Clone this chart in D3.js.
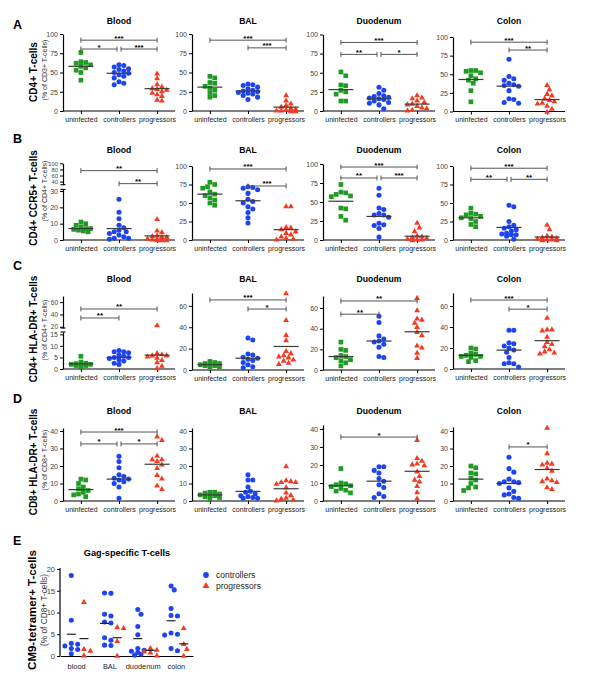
<!DOCTYPE html>
<html><head><meta charset="utf-8">
<script src="https://cdn.jsdelivr.net/npm/d3@7"></script>
<style>body{margin:0;background:#fff}svg{display:block}text{font-family:Arial,"Liberation Sans",sans-serif}</style>
</head><body><svg id="c" width="600" height="689"></svg>
<script>
const groups = ["uninfected","controllers","progressors"];
const tissues = ["Blood","BAL","Duodenum","Colon"];
const rowLetters = ["A","B","C","D"];
const rowTitles = ["CD4+ T-cells","CD4+ CCR5+ T-cells","CD4+ HLA-DR+ T-cells","CD8+ HLA-DR+ T-cells"];
const rowSubtitles = ["(% of CD3+ T-cells)","(% of CD4+ T-cells)","(% of CD4+ T-cells)","(% of CD8+ T-cells)"];

// ---- Row A: CD4+ T-cells ----
const A_Blood = [[76,64,63,62,60,58,56,53,50,40],[60,59,57,55,54,52,50,49,47,45,43,38,36,34],[49,43,35,32,30,29,28,26,24,22,20,15,14]];
const A_Blood_median = [58,49,29];
const A_Blood_sig = [[0,2,"***",92],[0,1,"*",80.5],[1,2,"***",80.5]];
const A_BAL = [[45,43,37,36,32,30,27,24,20,18],[35,34,33,31,29,27,26,25,24,23,22,20,18,15],[21,14,10,8,6,4,3,2,1,1,0,0]];
const A_BAL_median = [31,26,5];
const A_BAL_sig = [[0,2,"***",92],[1,2,"***",82]];
const A_Duodenum = [[51,46,34,33,27,25,22,13,13],[31,27,23,20,19,18,17,16,15,13,11,10,8,3],[21,18,17,14,12,10,9,7,5,4,2,1]];
const A_Duodenum_median = [28,16,9];
const A_Duodenum_sig = [[0,2,"***",89.6],[0,1,"**",74],[1,2,"*",74]];
const A_Colon = [[55,55,54,52,48,44,42,38,28,13],[70,47,44,42,38,36,35,34,28,17,16,12,11],[36,30,24,22,18,16,14,12,11,8,4,0]];
const A_Colon_median = [43,34,16];
const A_Colon_sig = [[0,2,"***",93],[1,2,"**",82.5]];

// ---- Row B: CD4+ CCR5+ T-cells ----
const B_Blood = [[11,10,9,8,7,7,6.5,6,5.5,5],[25,17,13,9,7.5,6,5,5,4,3,2,1,1,0.5],[13,6,5,3,2.5,2,2,1,1,0.5,0,0,0]];
const B_Blood_median = [7,7,2.5];
const B_Blood_sig = [[0,2,"**",76],[1,2,"**",33.5]];
const B_BAL = [[78,75,72,70,65,62,60,57,54,50,47],[72,71,70,68,63,55,52,50,45,42,37,30,23],[46,46,18,17,15,12,10,8,5,3,2,1]];
const B_BAL_median = [62,53,14];
const B_BAL_sig = [[0,2,"***",96],[1,2,"***",73]];
const B_Duodenum = [[73,63,62,60,58,57,42,41,31,26],[68,59,42,40,35,33,33,30,22,20,19,15,4],[23,17,12,6,5,4,3,2,1,1,0]];
const B_Duodenum_median = [51,31,5];
const B_Duodenum_sig = [[0,2,"***",96],[0,1,"**",81.6],[1,2,"***",81.6]];
const B_Colon = [[43,36,35,34,32,30,29,25,21,18],[47,45,25,20,18,16,14,12,9,8,7,7,5,1],[21,15,6,5,4,3,2,1,1,0,0]];
const B_Colon_median = [30,17,4];
const B_Colon_sig = [[0,2,"***",97],[0,1,"**",82],[1,2,"**",82]];

// ---- Row C: CD4+ HLA-DR+ T-cells ----
const C_Blood = [[5.5,3,2.5,2.3,2,2,1.8,1.5,1.5,1],[8,7.5,7.5,7,6,5.5,5,5,4.5,4,3.5,2.5,2],[23,7,6.5,6,6,5.5,5,4,3,1.5,0.5]];
const C_Blood_median = [2.2,5,6];
const C_Blood_sig = [[0,2,"**",48.9],[0,1,"**",34.3]];
const C_BAL = [[8,7,6,6,5,5,4,4,3,3],[30,28,15,14,12,11,10,9,7,5,3,2],[72,47,33,28,18,16,14,13,12,10,9,7,6]];
const C_BAL_median = [5,11,22];
const C_BAL_sig = [[0,2,"***",65.5],[1,2,"*",57]];
const C_Duodenum = [[27,20,19,14,13,12,10,9,7,4],[52,46,33,30,28,27,25,22,13,12],[70,58,50,49,46,42,37,34,24,22,17,12]];
const C_Duodenum_median = [13,28,37];
const C_Duodenum_sig = [[0,2,"**",66.8],[0,1,"**",54]];
const C_Colon = [[20,19,15,14,13,12,12,11,8,7],[37,37,25,24,22,20,18,16,11,6,5,5,2],[49,38,38,37,31,26,24,22,19,17,16,15]];
const C_Colon_median = [13,18,27];
const C_Colon_sig = [[0,2,"***",65.7],[1,2,"*",57]];

// ---- Row D: CD8+ HLA-DR+ T-cells ----
const D_Blood = [[12.5,12,10,8,7,6,5,4,3.5,2.5],[25.5,22.5,19,15,14,13,12.5,12,11,10,8,1.5],[37,35,26,24,24,23,21,19,15,13,9,7]];
const D_Blood_median = [6.5,12.5,21];
const D_Blood_sig = [[0,2,"***",39.4],[0,1,"*",32.6],[1,2,"*",32.6]];
const D_BAL = [[5,5,4.5,4,3.5,3.5,3,2.5,2,1],[15,12,12,8,5.5,5,4,3,2.5,2,1.5,1.5],[20,12,11.5,11,11,10,8,5,3.5,2,1.5,1,0.5]];
const D_BAL_median = [3.5,5.5,7];
const D_BAL_sig = [];
const D_Duodenum = [[18,10,9.5,9,8.5,8,7,6,5.5,4.5],[19,19,17,15.5,12.5,11,9,7.5,4,2.5,2],[34,24,22.5,21,20.5,20,16.5,14,12,11,8.5,5,1.5]];
const D_Duodenum_median = [8.5,11,16.5];
const D_Duodenum_sig = [[0,2,"*",35.5]];
const D_Colon = [[20,19,16,15.5,13,12,10,8,7.5,6],[25,18.5,16.5,12.5,11,11,10.5,10,7.5,5.5,4,3.5,2,1.5],[42,27.5,22,21.5,21,19,17.5,13,12,11.5,11,8,7]];
const D_Colon_median = [12.5,10,18];
const D_Colon_sig = [[1,2,"*",30.9]];

// ---- Row E: Gag-specific T-cells ----
const E_categories = ["blood","BAL","duodenum","colon"];
const E_series = ["controllers","progressors"];
const E_controllers = [[18.5,8.2,2.9,2.7,2.3,1.7,1.5,0.5],[14.4,14.5,9.6,9.2,7.8,7.6,4.2,3.6,2.5,2.4],[10.7,9.6,6.8,4.9,1.7,1.3,1.1,0.8,0.4,0.2],[16.1,15.2,10.9,9.2,9.3,5.3,5.0,4.8,1.7,1.2]];
const E_progressors = [[12.5,1.7,1.3,0.2],[6.5,6.7,3.5,0.1],[1.9,1.5,1.1,0.9,0.2],[6.5,2.8,1.7,0.1]];
const E_controllers_mean = [5.0,7.5,4.0,8.1];
const E_progressors_mean = [4.0,4.2,1.3,2.8];
const E_ticks = [0,5,10,15,20];

// ================= drawing =================
const svg = d3.select("#c");
const colors = ["#1f9a22","#1e44f2","#f53a22"];
const symbols = [d3.symbolSquare, d3.symbolCircle, d3.symbolTriangle];
const symSizes = [22, 20, 15];
const FONT = 'Arial,"Liberation Sans",sans-serif';

const allData = {
  A:[[A_Blood,A_Blood_median,A_Blood_sig],[A_BAL,A_BAL_median,A_BAL_sig],[A_Duodenum,A_Duodenum_median,A_Duodenum_sig],[A_Colon,A_Colon_median,A_Colon_sig]],
  B:[[B_Blood,B_Blood_median,B_Blood_sig],[B_BAL,B_BAL_median,B_BAL_sig],[B_Duodenum,B_Duodenum_median,B_Duodenum_sig],[B_Colon,B_Colon_median,B_Colon_sig]],
  C:[[C_Blood,C_Blood_median,C_Blood_sig],[C_BAL,C_BAL_median,C_BAL_sig],[C_Duodenum,C_Duodenum_median,C_Duodenum_sig],[C_Colon,C_Colon_median,C_Colon_sig]],
  D:[[D_Blood,D_Blood_median,D_Blood_sig],[D_BAL,D_BAL_median,D_BAL_sig],[D_Duodenum,D_Duodenum_median,D_Duodenum_sig],[D_Colon,D_Colon_median,D_Colon_sig]]
};

const x0s = [63,192,323,453];
const AXW = 112;
const layout = [
  {bottom:111, titleY:24, letterY:29, yTitleY:72, subY:70, ticks:[0,25,50,75,100],
   panels:[{max:100,top:34},{max:100,top:34},{max:100,top:34.5},{max:100,top:37,bottom:111.5}]},
  {bottom:240, titleY:153, letterY:143, yTitleY:198, subY:191, ticks:[0,25,50,75,100],
   panels:[{broken:{low:[0,31],lowR:[240,189.4],high:[30,100],highR:[184.7,163.3],lowTicks:[0,10,20,30],highTicks:[40,60,80,100],hiFont:5.8}},
           {max:100,top:166},{max:100,top:164},{max:100,top:166}]},
  {bottom:370, titleY:282, letterY:270, yTitleY:329, subY:330, ticks:[0,20,40,60],
   panels:[{broken:{low:[0,16],lowR:[369,332],high:[18,70],highR:[328,296],lowTicks:[0,5,10,15],highTicks:[20,40,60],hiFont:6.5}, bottom:369},
           {max:72,top:293},{max:71.6,top:296},{max:72.4,top:293,bottom:369}]},
  {bottom:501, titleY:414, letterY:403, yTitleY:462, subY:460, ticks:[0,10,20,30,40],
   panels:[{max:41.7,top:428},{max:41.7,top:428},{max:42.2,top:425},{max:42.3,top:427}]}
];

function swarm(values, yf, cx, step, minD, maxOff){
  const pts = values.map(v=>({v, y:yf(v)})).sort((a,b)=>a.y-b.y);
  const placed=[];
  const cands=[0]; for(let i=1;i*step<=maxOff;i++){cands.push(i*step,-i*step);}
  for(const p of pts){
    let best=null, bestOv=Infinity;
    for(const dx of cands){
      const xx=cx+dx;
      let ov=0;
      placed.forEach(q=>{const d=Math.hypot(q.x-xx,q.y-p.y); if(d<minD) ov+=minD-d;});
      if(ov===0){best=xx;break;}
      if(ov<bestOv-0.5){bestOv=ov;best=xx;}
    }
    p.x=best;
    placed.push(p);
  }
  return placed;
}

function styleAxis(g, size){
  g.selectAll(".domain").attr("stroke","#000").attr("stroke-width",1.2);
  g.selectAll(".tick line").attr("stroke","#000").attr("stroke-width",1);
  g.selectAll(".tick text").attr("fill","#444").attr("font-size",size).attr("font-family",FONT);
}

Object.keys(allData).forEach((rk, ri)=>{
  const L = layout[ri];
  svg.append("text").attr("x",13).attr("y",L.letterY).text(rowLetters[ri])
     .attr("font-size",12.5).attr("font-weight","bold").attr("fill","#000");
  svg.append("text").attr("transform",`translate(37,${L.yTitleY}) rotate(-90)`).attr("text-anchor","middle")
     .attr("font-size",10).attr("font-weight","bold").text(rowTitles[ri]);
  svg.append("text").attr("transform",`translate(46.5,${L.subY}) rotate(-90)`).attr("text-anchor","middle")
     .attr("font-size",7).attr("fill","#333").text(rowSubtitles[ri]);

  allData[rk].forEach((pd, pi)=>{
    const [vals, med, sig] = pd;
    const P = L.panels[pi];
    const x0 = x0s[pi];
    const bottom = P.bottom || L.bottom;
    const g = svg.append("g");
    const x = d3.scalePoint().domain(groups).range([x0, x0+AXW]).padding(0.47);
    let yf;
    if(P.broken){
      const b = P.broken;
      const lo = d3.scaleLinear().domain(b.low).range(b.lowR);
      const hi = d3.scaleLinear().domain(b.high).range(b.highR);
      yf = v => v > b.low[1] ? hi(v) : lo(v);
      const a1 = g.append("g").attr("transform",`translate(${x0},0)`)
        .call(d3.axisLeft(lo).tickValues(b.lowTicks).tickSize(3).tickSizeOuter(0).tickPadding(2));
      styleAxis(a1,7);
      const a2 = g.append("g").attr("transform",`translate(${x0},0)`)
        .call(d3.axisLeft(hi).tickValues(b.highTicks).tickSize(3).tickSizeOuter(0).tickPadding(2));
      styleAxis(a2,b.hiFont);
      // break caps
      [b.lowR[1], b.highR[0]].forEach(yy=>{
        g.append("line").attr("x1",x0-2.5).attr("x2",x0+2.5).attr("y1",yy).attr("y2",yy).attr("stroke","#000").attr("stroke-width",1.1);
      });
    } else {
      const y = d3.scaleLinear().domain([0,P.max]).range([bottom,P.top]);
      yf = y;
      const a = g.append("g").attr("transform",`translate(${x0},0)`)
        .call(d3.axisLeft(y).tickValues(L.ticks).tickSize(3).tickSizeOuter(0).tickPadding(2));
      styleAxis(a,7);
    }
    const ax = g.append("g").attr("transform",`translate(0,${bottom})`)
      .call(d3.axisBottom(x).tickSize(3).tickSizeOuter(0).tickPadding(3));
    styleAxis(ax,7);
    ax.selectAll(".tick text").attr("fill","#222");
    ax.select(".domain").attr("d",`M${x0},0H${x0+AXW}`);
    g.append("text").attr("x",x(groups[1])).attr("y",L.titleY).attr("text-anchor","middle")
      .attr("font-size",8.6).attr("font-weight","bold").text(tissues[pi]);
    groups.forEach((grp, gi)=>{
      const pts = swarm(vals[gi], yf, x(grp), 2.4, 4.6, 10);
      g.selectAll(null).data(pts).enter().append("path")
        .attr("d", d3.symbol().type(symbols[gi]).size(symSizes[gi]))
        .attr("transform", d=>`translate(${d.x},${d.y + (gi===2?0.6:0)})`)
        .attr("fill", colors[gi]);
    });
    g.selectAll(null).data(med).enter().append("line")
      .attr("x1",(d,i)=>x(groups[i])-12.5).attr("x2",(d,i)=>x(groups[i])+12.5)
      .attr("y1",d=>yf(d)).attr("y2",d=>yf(d)).attr("stroke","#3a3a3a").attr("stroke-width",1.2);
    sig.forEach(s=>{
      const [a,b,lab,lev] = s;
      let xa = x(groups[a]), xb = x(groups[b]);
      const shared = sig.filter(t=>t!==s && t[3]===lev);
      if(shared.some(t=>t[0]===b)) xb -= 2;
      if(shared.some(t=>t[1]===a)) xa += 2;
      const yy = yf(lev);
      g.append("line").attr("x1",xa).attr("x2",xb).attr("y1",yy).attr("y2",yy).attr("stroke","#555").attr("stroke-width",1);
      [xa,xb].forEach(xx=>g.append("line").attr("x1",xx).attr("x2",xx).attr("y1",yy-2.5).attr("y2",yy+2.5).attr("stroke","#555").attr("stroke-width",1));
      g.append("text").attr("x",(xa+xb)/2).attr("y",yy+0.5).attr("text-anchor","middle")
        .attr("font-size",8).attr("font-weight","bold").text(lab);
    });
  });
});

// ---- Panel E ----
(function(){
  const g = svg.append("g");
  svg.append("text").attr("x",13).attr("y",545).text("E").attr("font-size",12.5).attr("font-weight","bold");
  svg.append("text").attr("transform","translate(36,610) rotate(-90)").attr("text-anchor","middle")
     .attr("font-size",11.5).attr("font-weight","bold").text("CM9-tetramer+ T-cells");
  svg.append("text").attr("transform","translate(46.5,610) rotate(-90)").attr("text-anchor","middle")
     .attr("font-size",8.3).attr("fill","#333").text("(% of CD8+ T-cells)");
  const x = d3.scaleBand().domain(E_categories).range([60,193]);
  const xi = d3.scalePoint().domain(E_series).range([x.bandwidth()*0.34, x.bandwidth()*0.72]);
  const y = d3.scaleLinear().domain([0,20]).range([656,569]);
  const ay = g.append("g").attr("transform","translate(60,0)")
    .call(d3.axisLeft(y).tickValues(E_ticks).tickSize(3).tickSizeOuter(0).tickPadding(2));
  styleAxis(ay,7.5);
  ay.select(".domain").attr("d","M-0,656V568");
  const ax = g.append("g").attr("transform","translate(0,656)")
    .call(d3.axisBottom(x).tickSize(0).tickSizeOuter(0).tickPadding(8));
  styleAxis(ax,7.4);
  ax.selectAll(".tick text").attr("fill","#222");
  g.append("text").attr("x",127).attr("y",556).attr("text-anchor","middle").attr("font-size",9.2).attr("font-weight","bold").text("Gag-specific T-cells");
  const series = [[E_controllers,E_controllers_mean,1],[E_progressors,E_progressors_mean,2]];
  series.forEach(([vals,means,ci],si)=>{
    E_categories.forEach((c,k)=>{
      const cx = x(c)+xi(E_series[si]);
      const pts = swarm(vals[k], y, cx, 3.2, 4.8, 8);
      g.selectAll(null).data(pts).enter().append("path")
        .attr("d", d3.symbol().type(symbols[ci]).size(symSizes[ci]))
        .attr("transform", d=>`translate(${d.x},${d.y+(ci===2?0.6:0)})`).attr("fill",colors[ci]);
      g.append("line").attr("x1",cx-4.5).attr("x2",cx+4.5).attr("y1",y(means[k])).attr("y2",y(means[k]))
        .attr("stroke","#222").attr("stroke-width",1.2);
    });
  });
  const leg = [["controllers",1,575,578],["progressors",2,586,589]];
  leg.forEach(([lab,ci,sy,ty])=>{
    g.append("path").attr("d",d3.symbol().type(symbols[ci]).size(symSizes[ci]+6)).attr("transform",`translate(206,${sy})`).attr("fill",colors[ci]);
    g.append("text").attr("x",216).attr("y",ty).attr("font-size",8.5).attr("fill","#222").text(lab);
  });
})();
</script></body></html>
